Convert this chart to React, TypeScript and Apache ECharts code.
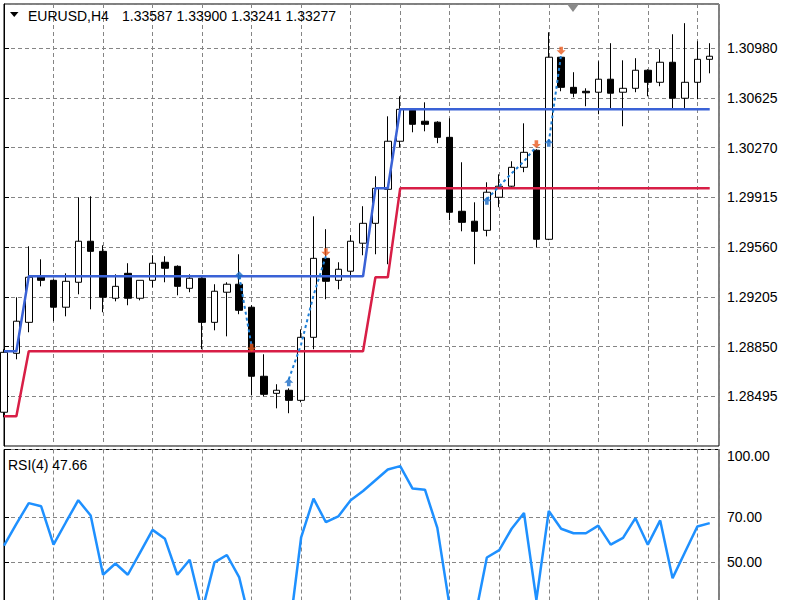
import React, { useEffect, useRef } from 'react';
import * as echarts from 'echarts';

// [open, close, low, high] per H4 bar
const ohlc: number[][] = [
  [1.28381, 1.28809, 1.28345, 1.28831],
  [1.28802, 1.29031, 1.28759, 1.29202],
  [1.29023, 1.29345, 1.28952, 1.29566],
  [1.29352, 1.29323, 1.29280, 1.29473],
  [1.29323, 1.29131, 1.29031, 1.29330],
  [1.29131, 1.29316, 1.29066, 1.29373],
  [1.29309, 1.29602, 1.29223, 1.29916],
  [1.29602, 1.29530, 1.29116, 1.29923],
  [1.29530, 1.29202, 1.29095, 1.29573],
  [1.29195, 1.29280, 1.29173, 1.29366],
  [1.29373, 1.29195, 1.29145, 1.29445],
  [1.29195, 1.29323, 1.29180, 1.29323],
  [1.29323, 1.29445, 1.29273, 1.29502],
  [1.29452, 1.29409, 1.29309, 1.29495],
  [1.29423, 1.29280, 1.29216, 1.29430],
  [1.29266, 1.29338, 1.29238, 1.29366],
  [1.29338, 1.29023, 1.28831, 1.29345],
  [1.29023, 1.29245, 1.28966, 1.29295],
  [1.29238, 1.29295, 1.28923, 1.29309],
  [1.29295, 1.29109, 1.29081, 1.29509],
  [1.29131, 1.28638, 1.28502, 1.29145],
  [1.28638, 1.28509, 1.28495, 1.28795],
  [1.28516, 1.28538, 1.28409, 1.28581],
  [1.28538, 1.28466, 1.28374, 1.28552],
  [1.28466, 1.28916, 1.28452, 1.28973],
  [1.28916, 1.29480, 1.28831, 1.29780],
  [1.29480, 1.29316, 1.29188, 1.29688],
  [1.29323, 1.29402, 1.29259, 1.29452],
  [1.29388, 1.29602, 1.29345, 1.29645],
  [1.29588, 1.29730, 1.29502, 1.29852],
  [1.29730, 1.29980, 1.29509, 1.30066],
  [1.29973, 1.30316, 1.29438, 1.30494],
  [1.30316, 1.30544, 1.30273, 1.30637],
  [1.30537, 1.30437, 1.30380, 1.30544],
  [1.30459, 1.30437, 1.30387, 1.30594],
  [1.30452, 1.30344, 1.30302, 1.30459],
  [1.30344, 1.29809, 1.29752, 1.30480],
  [1.29816, 1.29737, 1.29673, 1.30166],
  [1.29745, 1.29673, 1.29438, 1.29880],
  [1.29680, 1.29952, 1.29637, 1.30023],
  [1.29916, 1.29995, 1.29845, 1.30080],
  [1.29995, 1.30130, 1.29990, 1.30173],
  [1.30130, 1.30237, 1.30095, 1.30444],
  [1.30252, 1.29616, 1.29559, 1.30259],
  [1.29616, 1.30916, 1.29610, 1.31094],
  [1.30916, 1.30701, 1.30673, 1.30923],
  [1.30701, 1.30659, 1.30630, 1.30809],
  [1.30673, 1.30662, 1.30566, 1.30694],
  [1.30666, 1.30759, 1.30509, 1.30887],
  [1.30759, 1.30659, 1.30552, 1.31016],
  [1.30666, 1.30694, 1.30423, 1.30894],
  [1.30694, 1.30823, 1.30666, 1.30909],
  [1.30823, 1.30737, 1.30637, 1.30830],
  [1.30737, 1.30880, 1.30709, 1.30973],
  [1.30880, 1.30623, 1.30552, 1.31080],
  [1.30623, 1.30737, 1.30552, 1.31159],
  [1.30737, 1.30901, 1.30616, 1.31030],
  [1.30901, 1.30923, 1.30801, 1.31016],
];

const upperLine: number[] = [
  1.28816, 1.28816, 1.29352, 1.29352, 1.29352, 1.29352, 1.29352, 1.29352, 1.29352, 1.29352,
  1.29352, 1.29352, 1.29352, 1.29352, 1.29352, 1.29352, 1.29352, 1.29352, 1.29352, 1.29352,
  1.29352, 1.29352, 1.29352, 1.29352, 1.29352, 1.29352, 1.29352, 1.29352, 1.29352, 1.29352,
  1.29980, 1.29980, 1.30544, 1.30544, 1.30544, 1.30544, 1.30544, 1.30544, 1.30544, 1.30544,
  1.30544, 1.30544, 1.30544, 1.30544, 1.30544, 1.30544, 1.30544, 1.30544, 1.30544, 1.30544,
  1.30544, 1.30544, 1.30544, 1.30544, 1.30544, 1.30544, 1.30544, 1.30544,
];

const lowerLine: number[] = [
  1.28352, 1.28352, 1.28816, 1.28816, 1.28816, 1.28816, 1.28816, 1.28816, 1.28816, 1.28816,
  1.28816, 1.28816, 1.28816, 1.28816, 1.28816, 1.28816, 1.28816, 1.28816, 1.28816, 1.28816,
  1.28816, 1.28816, 1.28816, 1.28816, 1.28816, 1.28816, 1.28816, 1.28816, 1.28816, 1.28816,
  1.29345, 1.29345, 1.29980, 1.29980, 1.29980, 1.29980, 1.29980, 1.29980, 1.29980, 1.29980,
  1.29980, 1.29980, 1.29980, 1.29980, 1.29980, 1.29980, 1.29980, 1.29980, 1.29980, 1.29980,
  1.29980, 1.29980, 1.29980, 1.29980, 1.29980, 1.29980, 1.29980, 1.29980,
];

const rsiValues: number[] = [
  57.2, 66.9, 76.1, 74.7, 57.6, 67.6, 77.4, 70.6, 44.2, 49.2,
  44.2, 54.2, 64.2, 60.2, 44.2, 50.9, 28.0, 49.7, 53.0, 43.0,
  20.0, 12.0, 15.0, 17.0, 60.9, 78.1, 67.6, 70.2, 77.4, 81.5,
  86.3, 91.1, 92.6, 82.6, 82.1, 65.1, 30.0, 21.0, 24.0, 51.9,
  55.2, 64.7, 71.7, 33.0, 72.6, 64.7, 62.7, 62.7, 66.1, 57.6,
  60.6, 69.4, 57.6, 68.4, 42.7, 54.2, 65.7, 67.2,
];

// dotted signal paths: [bar index, price]
const dotSeg1: number[][] = [[19, 1.29352], [20, 1.28852]];
const dotSeg2: number[][] = [[23, 1.28616], [24, 1.28866], [25, 1.29216], [26, 1.29495]];
const dotSeg3: number[][] = [[39, 1.29902], [40, 1.29995], [41, 1.30087], [42, 1.30173], [43, 1.30280]];
const dotSeg4: number[][] = [[44, 1.30309], [45, 1.30937]];

const buyBars = [19, 23, 39, 44];
const buyPrices = [1.29359, 1.28595, 1.29891, 1.30305];
const sellBars = [20, 26, 43, 45];
const sellPrices = [1.28841, 1.29523, 1.30294, 1.30962];

const priceTickStart = 1.2814;
const priceTickStep = 0.00355;
const rsiLevels = [30, 50, 70, 100];
const rsiLabelValues = [50, 70, 100];

const headerSymbol = 'EURUSD,H4';
const headerQuote = '1.33587 1.33900 1.33241 1.33277';
const rsiTitle = 'RSI(4) 47.66';

const FONT = '"Liberation Sans", Arial, sans-serif';
const GRID_COLOR = '#858585';

export default function App() {
  const ref = useRef<HTMLDivElement>(null);
  useEffect(() => {
    if (!ref.current) return;
    const chart = echarts.init(ref.current, null, { renderer: 'svg' });
    const candleData = ohlc.map((d, i) => [i, d[0], d[1], d[2], d[3]]);
    const xAxisBase = {
      type: 'value',
      min: 0,
      max: 57.75,
      interval: 4,
      axisLine: { show: false },
      axisTick: { show: false },
      axisLabel: { show: false },
      splitLine: { show: true, lineStyle: { color: GRID_COLOR, type: [4, 3], width: 1 } },
    };
    const dotted = (data: number[][]) => ({
      type: 'line',
      xAxisIndex: 0,
      yAxisIndex: 0,
      data,
      symbol: 'none',
      z: 4,
      lineStyle: { color: '#1f7fd6', width: 2, type: [3, 3] },
    });
    const option: any = {
      animation: false,
      backgroundColor: '#ffffff',
      grid: [
        { left: 4, top: 4, width: 715, height: 442, show: true, borderColor: '#000', borderWidth: 1, backgroundColor: 'transparent' },
        { left: 4, top: 449.5, width: 715, height: 224.5, show: true, borderColor: '#000', borderWidth: 1, backgroundColor: 'transparent' },
      ],
      xAxis: [
        { ...xAxisBase, gridIndex: 0 },
        { ...xAxisBase, gridIndex: 1 },
      ],
      yAxis: [
        {
          type: 'value',
          gridIndex: 0,
          position: 'right',
          min: priceTickStart,
          max: 1.31296,
          interval: priceTickStep,
          axisLine: { show: true, lineStyle: { color: '#000', width: 1 } },
          axisTick: { show: true, length: 5, lineStyle: { color: '#000' } },
          axisLabel: {
            show: true,
            margin: 8,
            color: '#000',
            fontFamily: FONT,
            fontSize: 14,
            showMinLabel: false,
            showMaxLabel: false,
            formatter: (v: number) => v.toFixed(5),
          },
          splitLine: { show: true, lineStyle: { color: GRID_COLOR, type: [4, 3], width: 1 } },
        },
        {
          type: 'value',
          gridIndex: 1,
          position: 'right',
          min: 0,
          max: 100,
          axisLine: { show: true, lineStyle: { color: '#000', width: 1 } },
          axisTick: { show: true, length: 5, lineStyle: { color: '#000' }, customValues: rsiLevels },
          axisLabel: {
            show: true,
            margin: 8,
            color: '#000',
            fontFamily: FONT,
            fontSize: 14,
            customValues: rsiLabelValues,
            formatter: (v: number) => (v === 100 ? '{top|' + v.toFixed(2) + '}' : v.toFixed(2)),
            rich: { top: { padding: [13, 0, 0, 0], fontFamily: FONT, fontSize: 14, color: '#000' } },
          },
          splitLine: { show: true, lineStyle: { color: GRID_COLOR, type: [4, 3], width: 1 } },
        },
      ],
      series: [
        {
          type: 'candlestick',
          xAxisIndex: 0,
          yAxisIndex: 0,
          data: candleData,
          barWidth: 7,
          clip: true,
          z: 2,
          itemStyle: {
            color: '#ffffff',
            color0: '#000000',
            borderColor: '#000000',
            borderColor0: '#000000',
            borderWidth: 1,
          },
        },
        {
          type: 'line',
          xAxisIndex: 0,
          yAxisIndex: 0,
          data: upperLine.map((v, i) => [i, v]),
          symbol: 'none',
          z: 3,
          lineStyle: { color: '#3a62d6', width: 2.5 },
        },
        {
          type: 'line',
          xAxisIndex: 0,
          yAxisIndex: 0,
          data: lowerLine.map((v, i) => [i, v]),
          symbol: 'none',
          z: 3,
          lineStyle: { color: '#d81e46', width: 2.5 },
        },
        dotted(dotSeg1),
        dotted(dotSeg2),
        dotted(dotSeg3),
        dotted(dotSeg4),
        {
          type: 'scatter',
          xAxisIndex: 0,
          yAxisIndex: 0,
          data: buyBars.map((b, i) => [b, buyPrices[i]]),
          symbol: 'path://M5 0L10 5L7 5L7 9L3 9L3 5L0 5Z',
          symbolSize: [9, 8],
          z: 5,
          itemStyle: { color: '#1a6cc6' },
        },
        {
          type: 'scatter',
          xAxisIndex: 0,
          yAxisIndex: 0,
          data: sellBars.map((b, i) => [b, sellPrices[i]]),
          symbol: 'path://M3 0L7 0L7 4L10 4L5 9L0 4L3 4Z',
          symbolSize: [9, 8],
          z: 5,
          itemStyle: { color: '#ea5a1e' },
        },
        {
          type: 'line',
          xAxisIndex: 1,
          yAxisIndex: 1,
          data: rsiValues.map((v, i) => [i, v]),
          symbol: 'none',
          z: 3,
          lineStyle: { color: '#1e90ff', width: 2.5 },
        },
      ],
      graphic: [
        { type: 'polygon', shape: { points: [[10, 12], [18.5, 12], [14.25, 17]] }, style: { fill: '#000' }, z: 10 },
        {
          type: 'text',
          x: 28,
          y: 15.5,
          z: 10,
          style: { text: headerSymbol, font: '14px ' + FONT, fill: '#000', verticalAlign: 'middle', textVerticalAlign: 'middle' },
        },
        {
          type: 'text',
          x: 122,
          y: 15.5,
          z: 10,
          style: { text: headerQuote, font: '14px ' + FONT, fill: '#000', verticalAlign: 'middle', textVerticalAlign: 'middle' },
        },
        {
          type: 'text',
          x: 8,
          y: 465,
          z: 10,
          style: { text: rsiTitle, font: '14px ' + FONT, fill: '#000', verticalAlign: 'middle', textVerticalAlign: 'middle' },
        },
        { type: 'polygon', shape: { points: [[567, 4], [579, 4], [573, 12]] }, style: { fill: '#8a8a8a' }, z: 10 },
      ],
    };
    chart.setOption(option);
    return () => chart.dispose();
  }, []);
  return (
    <div style={{ position: 'absolute', left: 0, top: 0, width: 800, height: 600, overflow: 'hidden', background: '#fff' }}>
      <div ref={ref} style={{ width: 800, height: 690 }} />
    </div>
  );
}
